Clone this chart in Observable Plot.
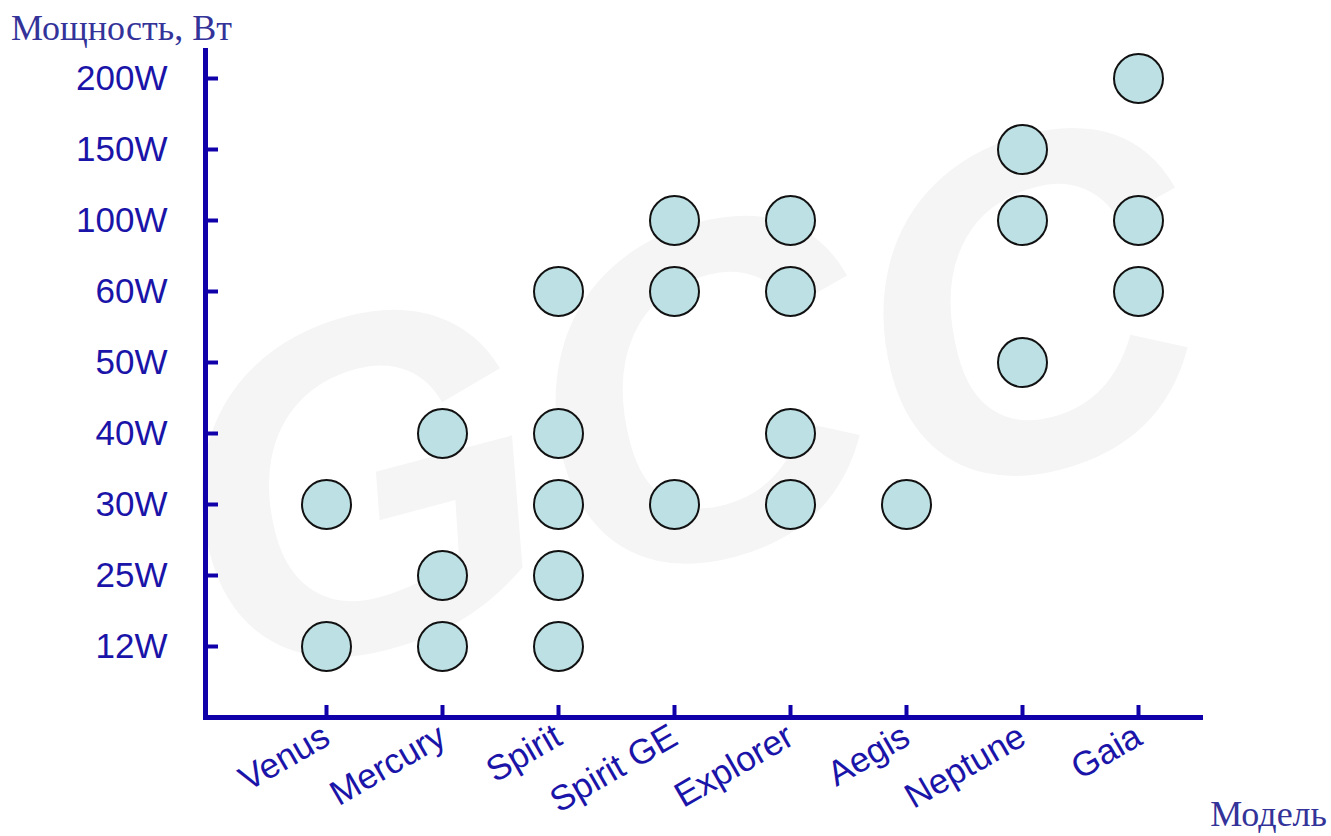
<!DOCTYPE html>
<html>
<head>
<meta charset="utf-8">
<script src="https://cdn.jsdelivr.net/npm/d3@7"></script>
<script src="https://cdn.jsdelivr.net/npm/@observablehq/plot@0.6"></script>
<style>
  html, body { margin: 0; padding: 0; background: #fff; }
  #wrap { position: relative; width: 1331px; height: 836px; overflow: hidden; }
  .lbl { position: absolute; font-family: "Liberation Serif", "Times New Roman", serif; font-size: 36px; color: #333399; white-space: nowrap; line-height: 1; }
</style>
</head>
<body>
<div id="wrap">
  <div id="chart"></div>
  <div class="lbl" id="ytitle" style="left:11px; top:10px;">Мощность, Вт</div>
  <div class="lbl" id="xtitle" style="right:4px; top:796px;">Модель</div>
</div>
<script>
const models = ["Venus", "Mercury", "Spirit", "Spirit GE", "Explorer", "Aegis", "Neptune", "Gaia"];
const powerLevels = ["12W", "25W", "30W", "40W", "50W", "60W", "100W", "150W", "200W"];
const venusPowers = ["12W", "30W"];
const mercuryPowers = ["12W", "25W", "40W"];
const spiritPowers = ["12W", "25W", "30W", "40W", "60W"];
const spiritGEPowers = ["30W", "60W", "100W"];
const explorerPowers = ["30W", "40W", "60W", "100W"];
const aegisPowers = ["30W"];
const neptunePowers = ["50W", "100W", "150W"];
const gaiaPowers = ["60W", "100W", "200W"];
const watermark = ["GCC"];

const powersByModel = [venusPowers, mercuryPowers, spiritPowers, spiritGEPowers,
  explorerPowers, aegisPowers, neptunePowers, gaiaPowers];
const rows = models.flatMap((m, i) => powersByModel[i].map(p => ({model: m, power: p})));

const axisColor = "#1000aa";

const chart = Plot.plot({
  width: 1331,
  height: 836,
  marginLeft: 205,
  marginRight: 131,
  marginTop: 50,
  marginBottom: 119,
  style: {fontFamily: "'Liberation Sans', Arial, sans-serif", fontSize: "35px", background: "#fff", overflow: "hidden"},
  x: {type: "point", domain: models, range: [323, 1140], padding: 0},
  y: {type: "point", domain: powerLevels, range: [646, 78], padding: 0},
  marks: [
    Plot.text(watermark, {
      text: d => d, frameAnchor: "middle", dx: -15, dy: 25,
      fontSize: 470, fontWeight: "bold", fontStyle: "italic",
      fontFamily: "'Liberation Sans', Arial, sans-serif",
      fill: "#f5f5f5", rotate: -15
    }),
    Plot.frame({anchor: "left", stroke: axisColor, strokeWidth: 5}),
    Plot.frame({anchor: "bottom", stroke: axisColor, strokeWidth: 5}),
    Plot.axisY({
      anchor: "left", tickSize: -13, tickPadding: 51, strokeWidth: 4,
      stroke: axisColor, fill: "#1a14a8", label: null, fontSize: 35
    }),
    Plot.axisX({
      anchor: "bottom", tickSize: -12, tickPadding: 28, tickRotate: -30, strokeWidth: 4,
      stroke: axisColor, fill: "#1a14a8", label: null, fontSize: 35
    }),
    Plot.dot(rows, {
      x: "model", y: "power", r: 24.5,
      fill: "#bce0e3", stroke: "#111111", strokeWidth: 2
    })
  ]
});
document.getElementById("chart").appendChild(chart);
</script>
</body>
</html>
